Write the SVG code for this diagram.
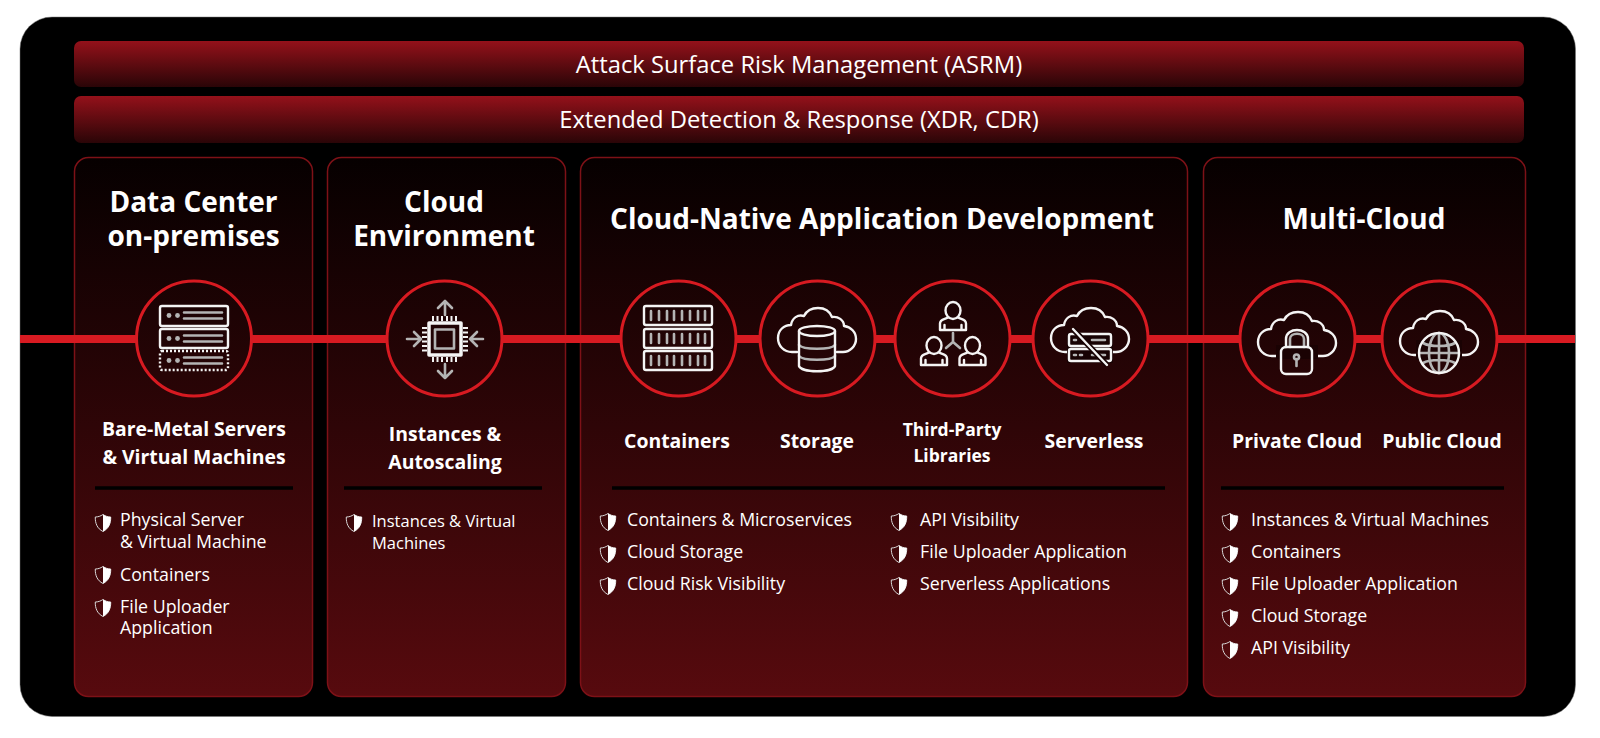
<svg xmlns="http://www.w3.org/2000/svg" width="1600" height="738" viewBox="0 0 1600 738">
<style>
text{font-family:"Open Sans","Noto Sans","Liberation Sans",sans-serif;fill:#fff;text-anchor:middle}
.bar{font-size:23.750px}
.title{font-size:28px;font-weight:700}
.sub{font-size:19.400px;font-weight:700}
.sub2{font-size:17.500px;font-weight:700}
.li{font-size:17.750px;text-anchor:start}
.li2{font-size:16.500px;text-anchor:start}
.panel{fill:url(#pg);stroke:#7d1117;stroke-width:1.5}
.barbox{fill:url(#bg)}
.ring{fill:url(#pg);stroke:#d71a21;stroke-width:3}
.w{fill:none;stroke:#f4f4f4;stroke-width:2.400;stroke-linecap:round;stroke-linejoin:round}
.g{fill:none;stroke:#b4b4b4;stroke-width:2.600;stroke-linecap:round;stroke-linejoin:round}
.gf{fill:#b4b4b4}
.dash{stroke-dasharray:2 2;stroke-linecap:butt}
.pins{stroke-linecap:butt;stroke-width:2}
.link{stroke:#d71a21;stroke-width:8;fill:none}
.rule{stroke:#000;stroke-width:3.500}
</style>
<defs>
<linearGradient id="pg" gradientUnits="userSpaceOnUse" x1="0" y1="157" x2="0" y2="697"><stop offset="0" stop-color="#060000"/><stop offset="1" stop-color="#570a0e"/></linearGradient>
<linearGradient id="bg" x1="0" y1="0" x2="0" y2="1"><stop offset="0" stop-color="#94111a"/><stop offset="1" stop-color="#2a0507"/></linearGradient>
<path id="cloud" d="M-20,14H-25C-33,14-39,8-39,0C-39,-8-33,-13-26,-13C-25,-20-19,-24-13,-22C-10,-28-4,-30 1,-30C8,-30 13,-26 15,-21C21,-22 27,-18 27,-12C34,-11 39,-6 39,1C39,8 33,14 26,14H20" class="w"/>
<g id="shield"><path d="M8,0.5C5.500,2.200 3,3 0.300,3C0.100,9 2,14.500 8,17.500C14,14.500 15.900,9 15.700,3C13,3 10.500,2.200 8,0.500Z" fill="none" stroke="#d9d9d9" stroke-width="1"/><path d="M8,0.500C10.500,2.200 13,3 15.700,3C15.900,9 14,14.500 8,17.500Z" fill="#fff"/></g>
<g id="person"><ellipse cx="0" cy="8.500" rx="7.500" ry="8.500" class="w"/><path d="M-5,15.500C-9,17.500-13,17-13,21.500V28H13V21.500C13,17 9,17.500 5,15.500M-8.500,23V28M8.500,23V28" class="w"/></g>
<g id="srv"><circle cx="9" cy="9.500" r="2.400" class="gf"/><circle cx="17.500" cy="9.500" r="2.400" class="gf"/><path d="M24,6.500H62M24,12.500H62" class="g"/></g>
</defs>

<rect id="frame" x="20" y="17" width="1555.500" height="699.500" rx="32" fill="#000" stroke="#777" stroke-width="0.500"/>

<g id="bar-asrm"><rect class="barbox" x="74" y="41" width="1450" height="46" rx="7"/><text class="bar" x="799" y="73">Attack Surface Risk Management (ASRM)</text></g>
<g id="bar-xdr"><rect class="barbox" x="74" y="96" width="1450" height="47" rx="7"/><text class="bar" x="799" y="128">Extended Detection &amp; Response (XDR, CDR)</text></g>

<g id="panel-datacenter">
<rect class="panel" x="74.500" y="157.500" width="238" height="539" rx="14"/>
<text class="title" x="193.500" y="212">Data Center</text><text class="title" x="193.500" y="246">on-premises</text>
<text class="sub" x="194" y="436">Bare-Metal Servers</text><text class="sub" x="194" y="464">&amp; Virtual Machines</text>
<line class="rule" x1="95" y1="488" x2="293" y2="488"/>
<use href="#shield" x="95" y="514"/><text class="li" x="120" y="526">Physical Server</text><text class="li" x="120" y="548">&amp; Virtual Machine</text>
<use href="#shield" x="95" y="566"/><text class="li" x="120" y="581">Containers</text>
<use href="#shield" x="95" y="599"/><text class="li" x="120" y="613">File Uploader</text><text class="li" x="120" y="634">Application</text>
</g>
<g id="panel-cloud">
<rect class="panel" x="327.500" y="157.500" width="238" height="539" rx="14"/>
<text class="title" x="444" y="212">Cloud</text><text class="title" x="444" y="246">Environment</text>
<text class="sub" x="445" y="441">Instances &amp;</text><text class="sub" x="445" y="469">Autoscaling</text>
<line class="rule" x1="344" y1="488" x2="542" y2="488"/>
<use href="#shield" x="346" y="514"/><text class="li2" x="372" y="527">Instances &amp; Virtual</text><text class="li2" x="372" y="549">Machines</text>
</g>
<g id="panel-native">
<rect class="panel" x="580.500" y="157.500" width="607" height="539" rx="14"/>
<text class="title" x="882" y="229">Cloud-Native Application Development</text>
<line class="rule" x1="612" y1="488" x2="1165" y2="488"/>
<use href="#shield" x="600" y="513"/><text class="li" x="627" y="526">Containers &amp; Microservices</text>
<use href="#shield" x="600" y="545"/><text class="li" x="627" y="558">Cloud Storage</text>
<use href="#shield" x="600" y="577"/><text class="li" x="627" y="590">Cloud Risk Visibility</text>
<use href="#shield" x="891" y="513"/><text class="li" x="920" y="526">API Visibility</text>
<use href="#shield" x="891" y="545"/><text class="li" x="920" y="558">File Uploader Application</text>
<use href="#shield" x="891" y="577"/><text class="li" x="920" y="590">Serverless Applications</text>
</g>
<g id="panel-multicloud">
<rect class="panel" x="1203.500" y="157.500" width="322" height="539" rx="14"/>
<text class="title" x="1364" y="229">Multi-Cloud</text>
<line class="rule" x1="1221" y1="488" x2="1504" y2="488"/>
<use href="#shield" x="1222" y="513"/><text class="li" x="1251" y="526">Instances &amp; Virtual Machines</text>
<use href="#shield" x="1222" y="545"/><text class="li" x="1251" y="558">Containers</text>
<use href="#shield" x="1222" y="577"/><text class="li" x="1251" y="590">File Uploader Application</text>
<use href="#shield" x="1222" y="609"/><text class="li" x="1251" y="622">Cloud Storage</text>
<use href="#shield" x="1222" y="641"/><text class="li" x="1251" y="654">API Visibility</text>
</g>

<g id="connectors">
<path class="link" d="M20,339H137M251,339H388M502,339H622M736,339H761M875,339H896M1010,339H1034M1148,339H1241M1355,339H1383M1497,339H1575"/>
</g>

<g id="node-baremetal">
<circle class="ring" cx="194" cy="338.500" r="57.500"/>
<rect class="w" x="160" y="306" width="68" height="20" rx="2"/><rect class="w" x="160" y="329" width="68" height="19" rx="2"/><rect class="w dash" x="160" y="351" width="68" height="19" rx="2"/>
<use href="#srv" x="160" y="306"/><use href="#srv" x="160" y="329"/><use href="#srv" x="160" y="351"/>
</g>
<g id="node-instances">
<circle class="ring" cx="444.500" cy="338.500" r="57.500"/>
<rect class="w" x="429" y="323" width="32" height="32" style="stroke-width:3.500"/>
<rect class="g" x="435" y="329.500" width="19" height="19"/>
<path class="w pins" d="M433,316V321M437.500,316V321M442,316V321M447,316V321M451.500,316V321M456,316V321M433,357V362M437.500,357V362M442,357V362M447,357V362M451.500,357V362M456,357V362M422,328H427M422,332.500H427M422,337H427M422,341.500H427M422,346H427M422,350.500H427M463,328H468M463,332.500H468M463,337H468M463,341.500H468M463,346H468M463,350.500H468"/>
<path class="g" d="M445,315V301M438,308L445,301L452,308M445,364V378M438,371L445,378L452,371M420,339H407M414,332L421,339L414,346M470,339H483M477,332L470,339L477,346"/>
</g>
<g id="node-containers">
<circle class="ring" cx="678.500" cy="338.500" r="57.500"/>
<rect class="w" x="644" y="306" width="68" height="19" rx="2"/><rect class="w" x="644" y="329" width="68" height="19" rx="2"/><rect class="w" x="644" y="351" width="68" height="19" rx="2"/>
<path class="g" d="M651,311V320M659,311V320M667,311V320M674,311V320M682,311V320M690,311V320M698,311V320M705,311V320M651,334V343M659,334V343M667,334V343M674,334V343M682,334V343M690,334V343M698,334V343M705,334V343M651,356V365M659,356V365M667,356V365M674,356V365M682,356V365M690,356V365M698,356V365M705,356V365"/>
</g>
<g id="node-storage">
<circle class="ring" cx="817.500" cy="338.500" r="57.500"/>
<use href="#cloud" x="817" y="338"/>
<path class="g" d="M799,345C803,350 831,350 835,345M799,356C803,361 831,361 835,356"/>
<ellipse class="w" cx="817" cy="331" rx="18" ry="5"/>
<path class="w" d="M799,331V366C802,373 832,373 835,366V331"/>
</g>
<g id="node-libraries">
<circle class="ring" cx="952.500" cy="338.500" r="57.500"/>
<use href="#person" x="953" y="302"/><use href="#person" x="934" y="337"/><use href="#person" x="972.500" y="337"/>
<path class="g" d="M953,333V342L946,348M953,342L960,348"/>
</g>
<g id="node-serverless">
<circle class="ring" cx="1090.500" cy="338.500" r="57.500"/>
<use href="#cloud" x="1090" y="338"/>
<rect x="1067" y="333" width="46" height="30" fill="#170203"/>
<rect class="w" x="1069" y="334" width="42" height="12" rx="2"/><rect class="w" x="1069" y="349" width="42" height="12" rx="2"/>
<path class="g" d="M1074,340H1076M1092,340H1105M1074,355H1076M1080,355H1082M1092,355H1105"/>
<path d="M1073,329L1107,365" stroke="#170203" stroke-width="5.500" fill="none"/>
<path class="w" d="M1073,329L1107,365"/>
</g>
<g id="node-private">
<circle class="ring" cx="1297.500" cy="338.500" r="57.500"/>
<use href="#cloud" x="1297" y="342"/>
<rect x="1276" y="345" width="42" height="14" fill="#1a0203"/>
<path class="w" d="M1286,347V339C1286,327 1308,327 1308,339V347"/>
<path class="g" d="M1290,347V339C1290,332 1304,332 1304,339V347"/>
<rect class="w" x="1281" y="347" width="31" height="27" rx="5"/>
<path class="g" d="M1296.500,359V366"/><circle class="g" cx="1296.500" cy="357" r="2.500"/>
</g>
<g id="node-public">
<circle class="ring" cx="1439.500" cy="338.500" r="57.500"/>
<use href="#cloud" x="1439" y="341"/>
<rect x="1416" y="340" width="46" height="20" fill="#1a0203"/>
<ellipse class="g" cx="1439" cy="353" rx="10" ry="20"/><path class="g" d="M1420,353H1458M1423,343C1430,347 1448,347 1455,343M1423,363C1430,359 1448,359 1455,363M1439,333V373"/>
<circle class="w" cx="1439" cy="353" r="20"/>
</g>
<g id="labels">
<text class="sub" x="677" y="448">Containers</text>
<text class="sub" x="817" y="448">Storage</text>
<text class="sub2" x="952" y="436">Third-Party</text><text class="sub2" x="952" y="462">Libraries</text>
<text class="sub" x="1094" y="448">Serverless</text>
<text class="sub" x="1297" y="448">Private Cloud</text>
<text class="sub" x="1442" y="448">Public Cloud</text>
</g>
</svg>
